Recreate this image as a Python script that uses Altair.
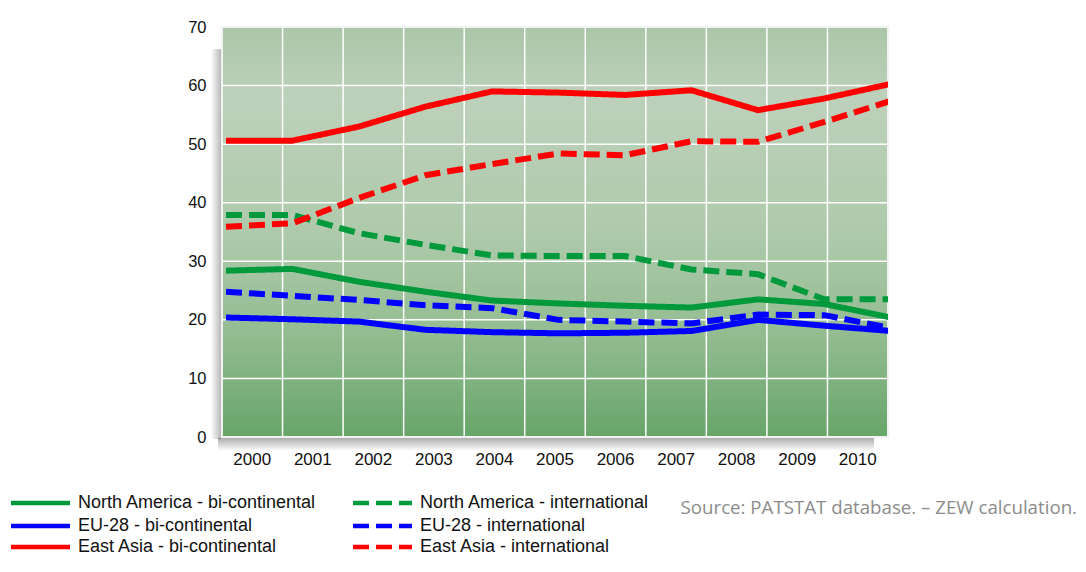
import altair as alt
import pandas as pd

years = [2000, 2001, 2002, 2003, 2004, 2005, 2006, 2007, 2008, 2009, 2010]
na_bi = [28.4, 28.7, 26.5, 24.8, 23.3, 22.8, 22.4, 22.1, 23.5, 22.7, 20.4]
na_int = [37.9, 37.9, 34.8, 32.8, 31.0, 30.9, 30.9, 28.6, 27.8, 23.5, 23.5]
eu_bi = [20.4, 20.1, 19.7, 18.3, 17.9, 17.7, 17.8, 18.1, 20.0, 19.0, 18.1]
eu_int = [24.8, 24.1, 23.4, 22.5, 22.0, 20.0, 19.7, 19.4, 20.9, 20.8, 18.6]
ea_bi = [50.6, 50.6, 53.0, 56.4, 59.0, 58.8, 58.4, 59.2, 55.8, 57.8, 60.3]
ea_int = [35.9, 36.5, 40.8, 44.7, 46.6, 48.4, 48.1, 50.5, 50.4, 53.8, 57.4]

series_names = [
    "North America - bi-continental",
    "North America - international",
    "EU-28 - bi-continental",
    "EU-28 - international",
    "East Asia - bi-continental",
    "East Asia - international",
]
series_values = [na_bi, na_int, eu_bi, eu_int, ea_bi, ea_int]
series_colors = ["#009a3d", "#009a3d", "#0000ff", "#0000ff", "#ff0000", "#ff0000"]
series_dash = [[1, 0], [16, 7], [1, 0], [16, 7], [1, 0], [16, 7]]
y_ticks = [0, 10, 20, 30, 40, 50, 60, 70]
grid_y = [10, 20, 30, 40, 50, 60]
grid_x = years[1:]
source_text = "Source: PATSTAT database. \u2013 ZEW calculation."

rows = []
for name, vals in zip(series_names, series_values):
    for yr, v in zip(years, vals):
        rows.append({"year": yr, "value": v, "series": name})
df = pd.DataFrame(rows)

W, H = 666, 410
FONT = "Liberation Sans"

one = alt.Data(values=[{}])

bg = alt.Chart(one).mark_rect(
    color=alt.LinearGradient(
        gradient="linear", x1=0, x2=0, y1=0, y2=1,
        stops=[
            alt.GradientStop(offset=0.0, color="#aac6a7"),
            alt.GradientStop(offset=0.17, color="#bdd0bb"),
            alt.GradientStop(offset=0.5, color="#aecaab"),
            alt.GradientStop(offset=0.75, color="#93bc91"),
            alt.GradientStop(offset=1.0, color="#67a569"),
        ],
    ),
    stroke="#f2f2f2", strokeWidth=2,
).encode(x=alt.value(0), x2=alt.value(W), y=alt.value(0), y2=alt.value(H))

shadow_bottom = alt.Chart(one).mark_rect(
    color=alt.LinearGradient(
        gradient="linear", x1=0, x2=0, y1=0, y2=1,
        stops=[
            alt.GradientStop(offset=0.0, color="rgba(0,0,0,0.32)"),
            alt.GradientStop(offset=1.0, color="rgba(0,0,0,0)"),
        ],
    )
).encode(x=alt.value(-4), x2=alt.value(652), y=alt.value(H + 1), y2=alt.value(H + 14))

shadow_left = alt.Chart(one).mark_rect(
    color=alt.LinearGradient(
        gradient="linear", x1=0, x2=1, y1=0, y2=0,
        stops=[
            alt.GradientStop(offset=0.0, color="rgba(0,0,0,0)"),
            alt.GradientStop(offset=1.0, color="rgba(0,0,0,0.28)"),
        ],
    )
).encode(x=alt.value(-11), x2=alt.value(-1), y=alt.value(22), y2=alt.value(H + 2))

y_axis = alt.Axis(
    values=y_ticks, grid=False, ticks=False, domain=False, title=None,
    labelFont=FONT, labelFontSize=16.5, labelColor="#111111", labelPadding=16,
)
y_scale = alt.Scale(domain=[0, 70], nice=False, zero=True)

vgrid = alt.Chart(alt.Data(values=[{"year": y} for y in grid_x])).mark_rule(
    color="white", strokeWidth=1.5
).encode(
    x=alt.X(
        "year:O", bandPosition=0,
        scale=alt.Scale(domain=years, paddingInner=0, paddingOuter=0),
        axis=alt.Axis(
            labelAngle=0, ticks=False, domain=False, grid=False, title=None,
            labelFont=FONT, labelFontSize=17, labelColor="#111111", labelPadding=14,
        ),
    ),
    y=alt.value(0), y2=alt.value(H),
)

hgrid = alt.Chart(alt.Data(values=[{"value": v} for v in grid_y])).mark_rule(
    color="white", strokeWidth=1.5
).encode(
    y=alt.Y("value:Q", scale=y_scale, axis=y_axis),
    x=alt.value(0), x2=alt.value(W),
)

lines = alt.Chart(df).mark_line(strokeWidth=6, clip=True).encode(
    x=alt.X("year:Q", scale=alt.Scale(domain=[1999.94, 2009.955], nice=False, zero=False), axis=None),
    y=alt.Y("value:Q", scale=y_scale, axis=y_axis),
    color=alt.Color("series:N", scale=alt.Scale(domain=series_names, range=series_colors), legend=None),
    strokeDash=alt.StrokeDash("series:N", scale=alt.Scale(domain=series_names, range=series_dash), legend=None),
    detail="series:N",
)

# custom two-column legend below the plot
legend_layers = []
col_x = [-211, 131]
row_y = [476, 499, 520]
for i, (name, col, dash) in enumerate(zip(series_names, series_colors, series_dash)):
    cx = col_x[i % 2]
    ry = row_y[i // 2]
    legend_layers.append(
        alt.Chart(one).mark_rule(color=col, strokeDash=dash, strokeWidth=4.5).encode(
            x=alt.value(cx), x2=alt.value(cx + 59), y=alt.value(ry)
        )
    )
    legend_layers.append(
        alt.Chart(one).mark_text(
            align="left", baseline="middle", font=FONT, fontSize=18, color="#111111"
        ).encode(x=alt.value(cx + 67), y=alt.value(ry), text=alt.value(name))
    )

source = alt.Chart(one).mark_text(
    align="right", baseline="middle", font="Open Sans", fontSize=18.7, color="#8c8c8c"
).encode(x=alt.value(855), y=alt.value(481), text=alt.value(source_text))

chart = alt.layer(
    shadow_bottom, shadow_left, bg, vgrid, hgrid, lines, source, *legend_layers
).resolve_scale(x="independent").properties(
    width=W, height=H,
    autosize=alt.AutoSizeParams(type="none"),
    padding={"left": 214, "top": 19, "right": 190, "bottom": 121},
).configure_view(stroke=None)

chart.save("out.html", embed_options={"renderer": "svg", "actions": False})
